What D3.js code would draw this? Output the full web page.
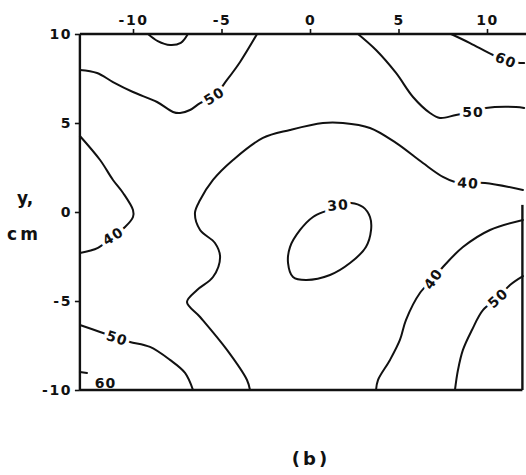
<!DOCTYPE html>
<html>
<head>
<meta charset="utf-8">
<script src="https://cdn.jsdelivr.net/npm/d3@7"></script>
<style>
  html, body { margin: 0; padding: 0; background: #fff; }
  svg text { font-family: "DejaVu Sans", sans-serif; fill: #111; font-weight: bold; }
</style>
</head>
<body>
<svg id="chart" width="526" height="475"></svg>
<script>
// tick values
const xTicks = [-10, -5, 0, 5, 10];
const yTicks = [10, 5, 0, -5, -10];

// contour lines, [x, y] in cm
const c60Top = [[-9.15, 10], [-8.6, 9.6], [-7.9, 9.38], [-7.3, 9.5], [-6.9, 10]];
const c50UpperLeft = [[-13, 7.98], [-12.03, 7.81], [-11.13, 7.3], [-10, 6.74], [-8.64, 6.18],
  [-7.74, 5.62], [-7.34, 5.56], [-6.78, 5.73], [-6.21, 6.12], [-5.42, 6.52], [-4.69, 7.42],
  [-3.95, 8.43], [-2.99, 10]];
const c50UpperRight = [[2.71, 10], [3.73, 9.1], [4.86, 7.81], [5.82, 6.46], [6.78, 5.56],
  [7.34, 5.28], [8.25, 5.45], [9.21, 5.62], [9.94, 5.84], [11.64, 5.9], [12.1, 5.84]];
const c60UpperRight = [[7.97, 10], [9.04, 9.49], [10.34, 8.82], [11.07, 8.54], [11.86, 8.37], [12.1, 8.37]];
const c40Main = [[-3.39, -10], [-3.56, -9.44], [-4.69, -7.75], [-6.21, -5.9], [-6.95, -5.06],
  [-6.38, -4.38], [-5.48, -3.65], [-5.08, -2.53], [-5.37, -1.74], [-6.21, -1.01], [-6.5, -0.06],
  [-6.21, 0.67], [-5.48, 1.8], [-4.35, 2.92], [-2.66, 4.16], [-1.13, 4.61], [0.73, 5.0],
  [1.86, 5.0], [3.39, 4.72], [4.86, 3.88], [6.38, 2.75], [7.51, 1.97], [8.19, 1.69],
  [8.93, 1.63], [9.89, 1.63], [12.03, 1.24]];
const c40Left = [[-13, 4.27], [-11.86, 2.92], [-11.13, 1.8], [-10.56, 1.07], [-10.0, 0.11],
  [-10.0, -0.28], [-10.45, -0.84], [-11.13, -1.35], [-11.98, -2.02], [-13, -2.3]];
const c30Ring = [[1.58, 0.39], [2.32, 0.51], [2.99, 0.28], [3.39, -0.28], [3.45, -1.01],
  [3.16, -1.97], [2.26, -2.87], [1.13, -3.54], [-0.23, -3.82], [-0.96, -3.65], [-1.24, -2.87],
  [-1.13, -1.97], [-0.56, -1.01], [0.17, -0.28], [1.02, 0.11]];
const c40LowerRight = [[3.73, -10], [3.84, -9.44], [4.52, -8.31], [5.08, -7.19], [5.42, -6.07],
  [6.21, -4.55], [6.95, -3.76], [7.51, -3.09], [8.64, -1.97], [10.17, -1.01], [12.03, -0.45]];
const c50LowerRight = [[8.19, -10], [8.36, -8.88], [8.64, -7.75], [9.15, -6.63], [9.77, -5.51],
  [10.62, -4.83], [11.3, -4.1], [12.03, -3.6]];
const c50LowerLeft = [[-13, -6.35], [-11.86, -6.74], [-10.9, -7.08], [-10.17, -7.3], [-9.04, -7.58],
  [-7.91, -8.31], [-7.06, -9.04], [-6.61, -10]];
const c60LowerLeft = [[-13, -8.99], [-12.6, -9.04]];

const openContours = [c60Top, c50UpperLeft, c50UpperRight, c60UpperRight, c40Main,
  c40Left, c40LowerRight, c50LowerRight, c50LowerLeft, c60LowerLeft];
const closedContours = [c30Ring];

// contour labels: text, position, angle
const labelText = ['50', '50', '60', '40', '40', '30', '40', '50', '50', '60'];
const labelAt = [[-5.42, 6.52], [9.21, 5.62], [11.07, 8.54], [8.93, 1.63], [-11.13, -1.35],
  [1.58, 0.39], [6.95, -3.76], [10.62, -4.83], [-10.9, -7.08], [-11.55, -9.6]];
const labelAngle = [-32, 0, 22, 4, -32, -5, -55, -42, 18, 0];

const svg = d3.select('#chart');

const x = d3.scaleLinear().domain([-10, 10]).range([133, 487]);
const y = d3.scaleLinear().domain([10, -10]).range([34, 390]);

const line = d3.line()
  .x(d => x(d[0]))
  .y(d => y(d[1]))
  .curve(d3.curveCatmullRom.alpha(0.5));

const ring = d3.line()
  .x(d => x(d[0]))
  .y(d => y(d[1]))
  .curve(d3.curveCatmullRomClosed.alpha(0.5));

// Contours
const lines = svg.append('g')
  .attr('fill', 'none')
  .attr('stroke', '#111')
  .attr('stroke-width', 2)
  .attr('stroke-linecap', 'round');

lines.selectAll('path.open')
  .data(openContours)
  .enter()
  .append('path')
    .attr('class', 'open')
    .attr('d', d => line(d));

lines.selectAll('path.closed')
  .data(closedContours)
  .enter()
  .append('path')
    .attr('class', 'closed')
    .attr('d', d => ring(d));

// Contour labels with a white halo cutting the line
svg.append('g')
  .selectAll('text')
  .data(labelText)
  .enter()
  .append('text')
    .attr('transform', (d, i) =>
      `translate(${x(labelAt[i][0])},${y(labelAt[i][1])}) rotate(${labelAngle[i]})`)
    .attr('text-anchor', 'middle')
    .attr('dy', '0.36em')
    .style('font-size', '14px')
    .style('letter-spacing', '1px')
    .style('stroke', '#fff')
    .style('stroke-width', 7)
    .style('paint-order', 'stroke')
    .text(d => d);

// Frame
const frame = svg.append('g')
  .attr('stroke', '#111')
  .attr('stroke-width', 2.4)
  .attr('fill', 'none');

frame.append('line')
  .attr('x1', x(-13)).attr('x2', 526)
  .attr('y1', y(10)).attr('y2', y(10));
frame.append('line')
  .attr('x1', x(-13)).attr('x2', x(12))
  .attr('y1', y(-10)).attr('y2', y(-10));
frame.append('line')
  .attr('x1', x(-13)).attr('x2', x(-13))
  .attr('y1', y(10)).attr('y2', y(-10));
frame.append('line')
  .attr('x1', x(12)).attr('x2', x(12))
  .attr('y1', y(0.4)).attr('y2', y(-10));

// X-Axis (top)
const xAxis = svg.append('g')
  .attr('transform', `translate(0,${y(10)})`)
  .call(d3.axisTop(x).tickValues(xTicks).tickSize(5).tickPadding(4)
    .tickFormat(d => String(d)));

// Y-Axis (left)
const yAxis = svg.append('g')
  .attr('transform', `translate(${x(-13)},0)`)
  .call(d3.axisLeft(y).tickValues(yTicks).tickSize(5).tickPadding(3)
    .tickFormat(d => String(d)));

[xAxis, yAxis].forEach(a => {
  a.select('.domain').remove();
  a.selectAll('.tick line').attr('stroke', '#111').attr('stroke-width', 1.6);
  a.selectAll('.tick text')
    .style('font-family', '"DejaVu Sans", sans-serif')
    .style('font-weight', 'bold')
    .style('font-size', '14px')
    .style('letter-spacing', '1.5px')
    .attr('fill', '#111');
});

// Axis title
svg.append('text')
  .attr('x', 25).attr('y', 204)
  .attr('text-anchor', 'middle')
  .style('font-size', '17px')
  .text('y,');
svg.append('text')
  .attr('x', 24).attr('y', 240)
  .attr('text-anchor', 'middle')
  .style('font-size', '17px')
  .style('letter-spacing', '3px')
  .text('cm');

// Panel caption
svg.append('text')
  .attr('x', 311).attr('y', 465)
  .attr('text-anchor', 'middle')
  .style('font-size', '18px')
  .style('letter-spacing', '3px')
  .text('(b)');
</script>
</body>
</html>
